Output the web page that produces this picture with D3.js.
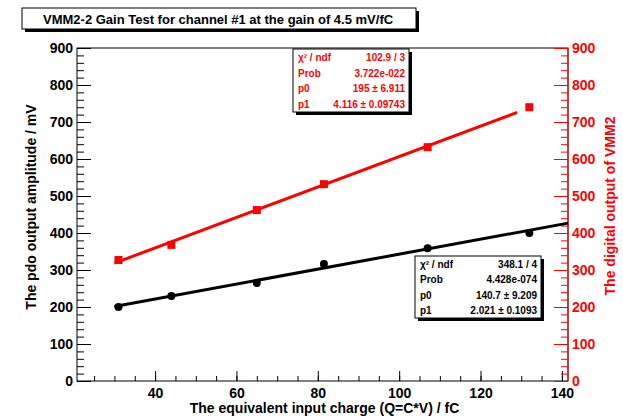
<!DOCTYPE html>
<html>
<head>
<meta charset="utf-8">
<script src="https://cdn.jsdelivr.net/npm/d3@7"></script>
<style>
body{margin:0;background:#fff;}
text{font-family:"Liberation Sans",Arial,sans-serif;font-weight:bold;}
.axis path{display:none;}
</style>
</head>
<body>
<script>
// data
var charge = [31, 44, 65, 81.5, 107, 132];
var pdo = [200, 230, 265, 316, 359, 400];
var digital = [327, 368, 462, 532, 632, 740];
var fitBlack = {p0:140.7, p1:2.021, from:30, to:141.5};
var fitRed = {p0:195, p1:4.116, from:30, to:129};
var statsBlack = [["\u03c7\u00b2 / ndf","348.1 / 4"],["Prob","4.428e-074"],["p0","140.7 \u00b1 9.209"],["p1","2.021 \u00b1 0.1093"]];
var statsRed = [["\u03c7\u00b2 / ndf","102.9 / 3"],["Prob","3.722e-022"],["p0","195 \u00b1 6.911"],["p1","4.116 \u00b1 0.09743"]];
var xTicks = [40, 60, 80, 100, 120, 140];
var yTicks = [0,100,200,300,400,500,600,700,800,900];

var W = 623, H = 416;
var fr = {l:77, r:568, t:48, b:381};

var svg = d3.select("body").append("svg").attr("width",W).attr("height",H);

var x = d3.scaleLinear().domain([20.8,141.5]).range([fr.l,fr.r]);
var y = d3.scaleLinear().domain([0,900]).range([fr.b,fr.t]);
var y2 = d3.scaleLinear().domain([0,900]).range([fr.b,fr.t]);

// title box
var tg = svg.append("g");
tg.append("rect").attr("x",25).attr("y",11).attr("width",394).attr("height",21).attr("fill","#000");
tg.append("rect").attr("x",22).attr("y",8).attr("width",394).attr("height",21).attr("fill","#fff").attr("stroke","#000");
tg.append("text").attr("x",43).attr("y",24).attr("font-size",13)
  .text("VMM2-2 Gain Test for channel #1 at the gain of 4.5 mV/fC");

// frame
svg.append("rect").attr("x",fr.l).attr("y",fr.t).attr("width",fr.r-fr.l).attr("height",fr.b-fr.t)
  .attr("fill","none").attr("stroke","#000");

// x axis: major and minor ticks pointing up
var minorX = d3.range(25,141,5);
svg.append("g").attr("class","axis").attr("transform","translate(0,"+fr.b+")")
  .call(d3.axisBottom(x).tickValues(minorX).tickSize(-5).tickFormat(""));
svg.append("g").attr("class","axis").attr("transform","translate(0,"+fr.b+")")
  .call(d3.axisBottom(x).tickValues(xTicks).tickSize(-10).tickPadding(7))
  .selectAll("text").attr("font-size",14).attr("fill","#000");

// left y axis
var minorY = d3.range(0,901,20);
svg.append("g").attr("class","axis").attr("transform","translate("+fr.l+",0)")
  .call(d3.axisLeft(y).tickValues(minorY).tickSize(-7).tickFormat(""));
svg.append("g").attr("class","axis").attr("transform","translate("+fr.l+",0)")
  .call(d3.axisLeft(y).tickValues(yTicks).tickSize(-14).tickPadding(-10))
  .selectAll("text").attr("font-size",14).attr("fill","#000").attr("x",-4);

// right red axis
var ra1 = svg.append("g").attr("class","axis").attr("transform","translate("+fr.r+",0)")
  .call(d3.axisRight(y2).tickValues(minorY).tickSize(-7).tickFormat(""));
var ra2 = svg.append("g").attr("class","axis").attr("transform","translate("+fr.r+",0)")
  .call(d3.axisRight(y2).tickValues(yTicks).tickSize(-14));
ra1.selectAll("line").attr("stroke","#f00");
ra2.selectAll("line").attr("stroke","#f00");
ra2.selectAll("text").attr("font-size",14).attr("fill","#f00").attr("x",4);
svg.append("line").attr("x1",fr.r).attr("x2",fr.r).attr("y1",fr.t).attr("y2",fr.b).attr("stroke","#f00");

// axis titles
svg.append("text").attr("x",(x(20.8)+x(141.5))/2+2).attr("y",413).attr("text-anchor","middle").attr("font-size",14)
  .text("The equivalent input charge (Q=C*V) / fC");
svg.append("text").attr("transform","translate(36,"+207+") rotate(-90)").attr("text-anchor","middle").attr("font-size",14)
  .text("The pdo output amplitude / mV");
svg.append("text").attr("transform","translate(615,"+206+") rotate(-90)").attr("text-anchor","middle").attr("font-size",14)
  .attr("fill","#f00").text("The digital output of VMM2");

// fit lines
function fitLine(f, col){
  svg.append("line").attr("x1",x(f.from)).attr("y1",y(f.p0+f.p1*f.from))
    .attr("x2",x(f.to)).attr("y2",y(f.p0+f.p1*f.to)).attr("stroke",col).attr("stroke-width",3);
}
fitLine(fitBlack,"#000");
fitLine(fitRed,"#f00");

// markers
svg.selectAll(".pb").data(charge).enter().append("circle")
  .attr("cx",function(d){return x(d);}).attr("cy",function(d,i){return y(pdo[i]);})
  .attr("r",4).attr("fill","#000");
svg.selectAll(".pr").data(charge).enter().append("rect")
  .attr("x",function(d){return x(d)-4;}).attr("y",function(d,i){return y2(digital[i])-4;})
  .attr("width",8).attr("height",8).attr("fill","#f00");

// stats boxes
function statBox(rows, bx, by, bw, bh, col){
  var g = svg.append("g");
  g.append("rect").attr("x",bx+3).attr("y",by+3).attr("width",bw).attr("height",bh).attr("fill","#000");
  g.append("rect").attr("x",bx).attr("y",by).attr("width",bw).attr("height",bh).attr("fill","#fff").attr("stroke","#000");
  var rh = bh/rows.length;
  rows.forEach(function(r,i){
    var ty = by + rh*i + rh/2 + 4;
    g.append("text").attr("x",bx+5).attr("y",ty).attr("font-size",10).attr("fill",col).text(r[0]);
    g.append("text").attr("x",bx+bw-4).attr("y",ty).attr("font-size",10).attr("fill",col).attr("text-anchor","end").text(r[1]);
  });
}
statBox(statsRed, 293, 49, 116, 63, "#f00");
statBox(statsBlack, 415, 256, 126, 62, "#000");
</script>
</body>
</html>
